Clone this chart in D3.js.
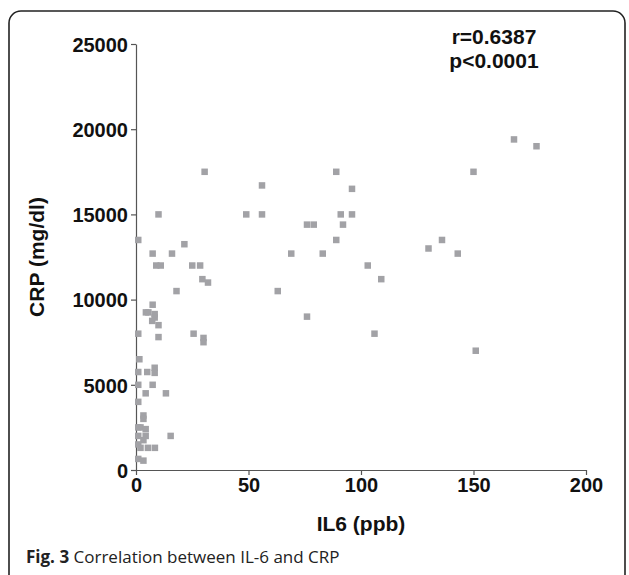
<!DOCTYPE html>
<html>
<head>
<meta charset="utf-8">
<script src="https://cdn.jsdelivr.net/npm/d3@7"></script>
<style>
  html, body { margin: 0; padding: 0; background: #fff; }
  svg { display: block; }
</style>
</head>
<body>
<svg id="chart"></svg>
<script>
// IL6 (ppb) and CRP (mg/dl), one pair per point
const il6 = [
  168, 178, 150, 130, 136, 143, 151,
  89, 56, 96, 49, 56, 91, 96, 76, 79, 92, 89, 69, 83, 103, 109, 63, 76, 106,
  30.5, 10, 1, 21.5, 7.4, 16, 9, 11, 25, 28.5, 29.5, 32, 18,
  7.4, 4.4, 5.5, 8.3, 8.3, 7.2, 10, 1, 10, 25.6, 30, 30,
  1.5, 1, 5, 8.3, 8.3, 1, 7.4, 4.3, 13.3, 1, 3.3, 3.3,
  1, 2, 4.3, 1, 4.3, 15.4, 3.3, 1, 2, 5.3, 8.4, 1, 3.3
];
const crp = [
  19400, 19000, 17500, 13000, 13500, 12700, 7000,
  17500, 16700, 16500, 15000, 15000, 15000, 15000, 14400, 14400, 14400, 13500, 12700, 12700, 12000, 11200, 10500, 9000, 8000,
  17500, 15000, 13500, 13250, 12700, 12700, 12000, 12000, 12000, 12000, 11200, 11000, 10500,
  9700, 9250, 9250, 9150, 8950, 8750, 8500, 8000, 7800, 8000, 7750, 7500,
  6500, 5750, 5750, 6000, 5700, 5000, 5000, 4500, 4500, 4000, 3200, 3000,
  2500, 2500, 2400, 2000, 2000, 2000, 1750, 1500, 1300, 1300, 1300, 650, 550
];
const xTicks = [0, 50, 100, 150, 200];
const yTicks = [0, 5000, 10000, 15000, 20000, 25000];
const statLines = ["r=0.6387", "p<0.0001"];

const width = 629;
const height = 575;

const svg = d3.select("#chart")
  .attr("width", width)
  .attr("height", height);

// Rounded frame round the figure (bottom edge runs off the picture)
svg.append("rect")
  .attr("x", 9)
  .attr("y", 11)
  .attr("width", 616)
  .attr("height", 580)
  .attr("rx", 12)
  .attr("fill", "none")
  .attr("stroke", "#222")
  .attr("stroke-width", 1.6);

// Plot area
const x = d3.scaleLinear().domain([0, 200]).range([136, 586]);
const y = d3.scaleLinear().domain([0, 25000]).range([470, 44]);

const tickFont = "'Liberation Sans', Arial, sans-serif";

const xAxis = svg.append("g")
  .attr("transform", `translate(0,${y(0)})`)
  .call(d3.axisBottom(x).tickValues(xTicks).tickFormat(d3.format("d"))
    .tickSize(5).tickPadding(3).tickSizeOuter(0));

const yAxis = svg.append("g")
  .attr("transform", `translate(${x(0)},0)`)
  .call(d3.axisLeft(y).tickValues(yTicks).tickFormat(d3.format("d"))
    .tickSize(5).tickPadding(3).tickSizeOuter(0));

[xAxis, yAxis].forEach(g => {
  g.attr("font-family", tickFont);
  g.select(".domain").attr("stroke", "#555").attr("stroke-width", 1.2);
  g.selectAll(".tick line").attr("stroke", "#555").attr("stroke-width", 1.2);
  g.selectAll(".tick text")
    .attr("fill", "#111")
    .style("font-family", tickFont)
    .style("font-weight", "bold")
    .style("font-size", "20px");
});
yAxis.selectAll(".tick text").attr("dy", "0.36em");

// Axis titles
svg.append("text")
  .attr("x", (x(0) + x(200)) / 2)
  .attr("y", 531)
  .attr("text-anchor", "middle")
  .style("font-family", tickFont)
  .style("font-weight", "bold")
  .style("font-size", "21px")
  .attr("fill", "#111")
  .text("IL6 (ppb)");

svg.append("text")
  .attr("transform", `translate(44,${(y(0) + y(25000)) / 2}) rotate(-90)`)
  .attr("text-anchor", "middle")
  .style("font-family", tickFont)
  .style("font-weight", "bold")
  .style("font-size", "21px")
  .attr("fill", "#111")
  .text("CRP (mg/dl)");

// Points as small grey squares
const size = 6.5;
svg.append("g")
  .selectAll("rect")
  .data(il6.map((v, i) => [v, crp[i]]))
  .enter().append("rect")
  .attr("x", d => x(d[0]) - size / 2)
  .attr("y", d => y(d[1]) - size / 2)
  .attr("width", size)
  .attr("height", size)
  .attr("fill", "#a2a2a6");

// Correlation statistics
svg.append("g")
  .selectAll("text")
  .data(statLines)
  .enter().append("text")
  .attr("x", 494)
  .attr("y", (d, i) => 44 + i * 24)
  .attr("text-anchor", "middle")
  .style("font-family", tickFont)
  .style("font-weight", "bold")
  .style("font-size", "21px")
  .attr("fill", "#111")
  .text(d => d);

// Figure caption
const caption = svg.append("text")
  .attr("x", 26)
  .attr("y", 563)
  .style("font-family", "'Open Sans', 'Noto Sans', sans-serif")
  .style("font-size", "17px")
  .attr("fill", "#222");
caption.append("tspan").style("font-weight", "bold").text("Fig. 3");
caption.append("tspan").text(" Correlation between IL-6 and CRP");
</script>
</body>
</html>
